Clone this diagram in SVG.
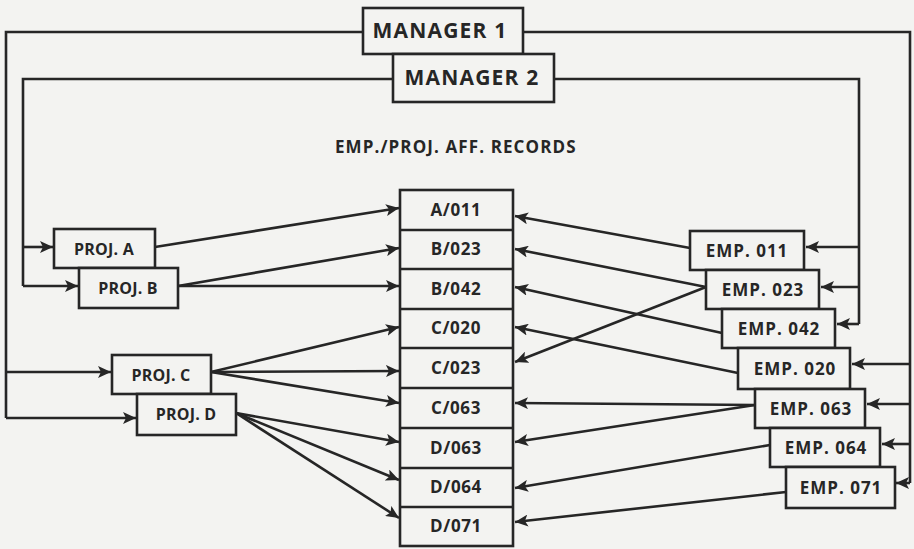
<svg xmlns="http://www.w3.org/2000/svg" width="914" height="549" viewBox="0 0 914 549">
<defs>
<marker id="ah" markerUnits="userSpaceOnUse" markerWidth="14" markerHeight="12" refX="13" refY="6" orient="auto">
<path d="M0,0 L13,6 L0,12 L3,6 Z" fill="#262626"/>
</marker>
<style>
.bx{fill:#f3f3f1;stroke:#262626;stroke-width:2.6}
.ln{fill:none;stroke:#262626;stroke-width:2.6}
.ar{fill:none;stroke:#262626;stroke-width:2.6;marker-end:url(#ah)}
text{font-family:"Open Sans","Noto Sans","Liberation Sans",sans-serif;font-weight:700;fill:#262626;text-anchor:middle}
.mg{font-size:21px;letter-spacing:1.2px}
.pj{font-size:16px;letter-spacing:0.2px}
.rc{font-size:17px;letter-spacing:0.6px}
.em{font-size:17px;letter-spacing:1px}
.tt{font-size:17px;letter-spacing:1.1px;text-anchor:start}
</style>
</defs>
<rect width="914" height="549" fill="#f3f3f1"/>
<g id="connectors">
<polyline class="ln" points="363,32 6,32 6,418"/>
<line class="ar" x1="6" y1="372" x2="111" y2="372"/>
<line class="ar" x1="6" y1="418" x2="136" y2="418"/>
<polyline class="ln" points="393,79 23,79 23,286"/>
<line class="ar" x1="23" y1="247" x2="53" y2="247"/>
<line class="ar" x1="23" y1="286" x2="78" y2="286"/>
<polyline class="ln" points="523,32 910,32 910,483"/>
<line class="ar" x1="910" y1="364" x2="852" y2="364"/>
<line class="ar" x1="910" y1="404" x2="867" y2="404"/>
<line class="ar" x1="910" y1="444" x2="882" y2="444"/>
<line class="ar" x1="910" y1="483" x2="896" y2="483"/>
<polyline class="ln" points="554,79 859,79 859,324"/>
<line class="ar" x1="859" y1="247" x2="806" y2="247"/>
<line class="ar" x1="859" y1="287" x2="821" y2="287"/>
<line class="ar" x1="859" y1="324" x2="837" y2="324"/>
<line class="ar" x1="155" y1="247" x2="399" y2="208"/>
<line class="ar" x1="178" y1="286" x2="399" y2="248"/>
<line class="ar" x1="178" y1="286" x2="399" y2="286"/>
<line class="ar" x1="211" y1="372" x2="399" y2="327"/>
<line class="ar" x1="211" y1="372" x2="399" y2="371"/>
<line class="ar" x1="211" y1="372" x2="399" y2="403"/>
<line class="ar" x1="236" y1="413" x2="399" y2="442"/>
<line class="ar" x1="236" y1="413" x2="399" y2="480"/>
<line class="ar" x1="236" y1="413" x2="399" y2="518"/>
<line class="ar" x1="690" y1="248" x2="515" y2="216"/>
<line class="ar" x1="706" y1="287" x2="515" y2="249"/>
<line class="ar" x1="706" y1="287" x2="515" y2="362"/>
<line class="ar" x1="722" y1="333" x2="515" y2="287"/>
<line class="ar" x1="738" y1="373" x2="515" y2="327"/>
<line class="ar" x1="755" y1="405" x2="515" y2="403"/>
<line class="ar" x1="755" y1="405" x2="515" y2="442"/>
<line class="ar" x1="770" y1="445" x2="515" y2="488"/>
<line class="ar" x1="786" y1="492" x2="515" y2="522"/>
</g>
<g id="manager1"><rect class="bx" x="363" y="8" width="160" height="46"/><text class="mg" x="440" y="38">MANAGER 1</text></g>
<g id="manager2"><rect class="bx" x="393" y="54" width="161" height="48"/><text class="mg" x="472" y="85">MANAGER 2</text></g>
<text class="tt" x="335" y="153">EMP./PROJ. AFF. RECORDS</text>
<g id="records">
<rect class="bx" x="400" y="190" width="113" height="356"/>
<line class="ln" x1="400" y1="230" x2="513" y2="230"/>
<line class="ln" x1="400" y1="269" x2="513" y2="269"/>
<line class="ln" x1="400" y1="309" x2="513" y2="309"/>
<line class="ln" x1="400" y1="348" x2="513" y2="348"/>
<line class="ln" x1="400" y1="388" x2="513" y2="388"/>
<line class="ln" x1="400" y1="428" x2="513" y2="428"/>
<line class="ln" x1="400" y1="468" x2="513" y2="468"/>
<line class="ln" x1="400" y1="507" x2="513" y2="507"/>
<text class="rc" x="456" y="216">A/011</text>
<text class="rc" x="456" y="255">B/023</text>
<text class="rc" x="456" y="295">B/042</text>
<text class="rc" x="456" y="334">C/020</text>
<text class="rc" x="456" y="374">C/023</text>
<text class="rc" x="456" y="414">C/063</text>
<text class="rc" x="456" y="454">D/063</text>
<text class="rc" x="456" y="493">D/064</text>
<text class="rc" x="456" y="532">D/071</text>
</g>
<g id="projA"><rect class="bx" x="54" y="229" width="101" height="39"/><text class="pj" x="104" y="255">PROJ. A</text></g>
<g id="projB"><rect class="bx" x="79" y="268" width="99" height="40"/><text class="pj" x="128" y="294">PROJ. B</text></g>
<g id="projC"><rect class="bx" x="112" y="355" width="99" height="39"/><text class="pj" x="161" y="381">PROJ. C</text></g>
<g id="projD"><rect class="bx" x="137" y="394" width="99" height="41"/><text class="pj" x="186" y="420">PROJ. D</text></g>
<g id="emp011"><rect class="bx" x="690" y="231" width="114" height="39"/><text class="em" x="747" y="257">EMP. 011</text></g>
<g id="emp023"><rect class="bx" x="706" y="270" width="113" height="39"/><text class="em" x="763" y="296">EMP. 023</text></g>
<g id="emp042"><rect class="bx" x="722" y="309" width="113" height="39"/><text class="em" x="779" y="335">EMP. 042</text></g>
<g id="emp020"><rect class="bx" x="738" y="348" width="112" height="41"/><text class="em" x="795" y="375">EMP. 020</text></g>
<g id="emp063"><rect class="bx" x="755" y="389" width="110" height="39"/><text class="em" x="811" y="415">EMP. 063</text></g>
<g id="emp064"><rect class="bx" x="770" y="428" width="110" height="39"/><text class="em" x="826" y="454">EMP. 064</text></g>
<g id="emp071"><rect class="bx" x="786" y="467" width="109" height="41"/><text class="em" x="841" y="494">EMP. 071</text></g>
</svg>
